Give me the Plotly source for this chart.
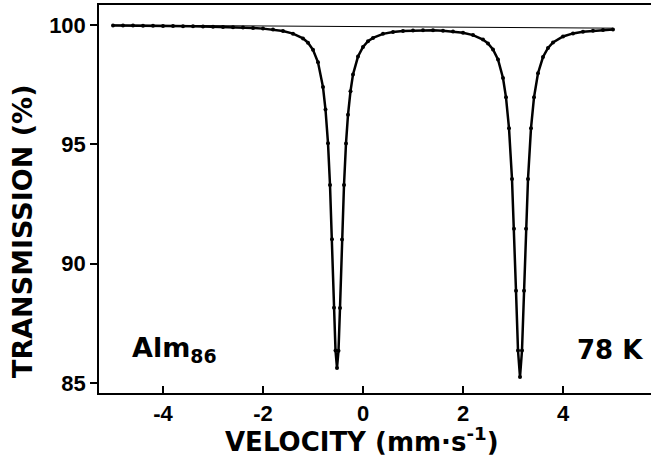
import plotly.graph_objects as go

# Velocity (mm/s) and transmission (%)
velocity = [-5.0, -4.8, -4.6, -4.4, -4.2, -4.0, -3.8, -3.6, -3.4, -3.2,
            -3.0, -2.8, -2.6, -2.4, -2.2, -2.0, -1.8, -1.6, -1.4, -1.2,
            -1.1, -1.0, -0.9, -0.8, -0.75, -0.7, -0.66, -0.62, -0.58, -0.55,
            -0.52, -0.49, -0.46, -0.42, -0.38, -0.34, -0.30, -0.25, -0.2, -0.1,
            0.0, 0.1, 0.2, 0.4, 0.6, 0.8, 1.0, 1.2, 1.4, 1.6,
            1.8, 2.0, 2.2, 2.4, 2.5, 2.6, 2.7, 2.8, 2.86, 2.92,
            2.98, 3.02, 3.06, 3.10, 3.14, 3.18, 3.22, 3.26, 3.30, 3.36,
            3.42, 3.5, 3.6, 3.7, 3.8, 4.0, 4.2, 4.4, 4.6, 4.8, 5.0]
transmission = [99.98, 99.98, 99.98, 99.97, 99.97, 99.96, 99.96, 99.95, 99.95, 99.94,
                99.93, 99.92, 99.91, 99.90, 99.88, 99.85, 99.81, 99.75, 99.64, 99.44,
                99.26, 98.96, 98.44, 97.40, 96.46, 95.05, 93.30, 91.02, 88.15, 86.36,
                85.63, 86.35, 88.14, 91.01, 93.30, 95.04, 96.24, 97.23, 97.93, 98.68,
                99.08, 99.32, 99.46, 99.63, 99.71, 99.75, 99.77, 99.78, 99.78, 99.76,
                99.73, 99.68, 99.58, 99.39, 99.23, 98.98, 98.56, 97.78, 96.97, 95.68,
                93.55, 91.46, 88.86, 86.36, 85.25, 86.36, 88.86, 91.46, 93.55, 95.68,
                96.97, 97.98, 98.66, 99.04, 99.27, 99.52, 99.65, 99.72, 99.76, 99.79, 99.81]

# Straight base line of the fit
base_v = [-5.0, 5.0]
base_t = [100.0, 99.87]

x_ticks = [-4, -2, 0, 2, 4]
y_ticks = [85, 90, 95, 100]

FONT = "DejaVu Sans"
TICKFONT = "Liberation Sans"

fig = go.Figure()
fig.add_trace(go.Scatter(x=base_v, y=base_t, mode="lines",
                         line=dict(color="black", width=1), showlegend=False))
fig.add_trace(go.Scatter(x=velocity, y=transmission, mode="lines+markers",
                         line=dict(color="black", width=2.5),
                         marker=dict(color="black", size=4),
                         showlegend=False))

fig.add_annotation(x=-4.66, y=86.4, xref="x", yref="y", xanchor="left", yanchor="middle",
                   text="<b>Alm<sub>86</sub></b>", showarrow=False,
                   font=dict(family=FONT, size=27, color="black"))
fig.add_annotation(x=4.23, y=86.4, xref="x", yref="y", xanchor="left", yanchor="middle",
                   text="<b>78 K</b>", showarrow=False,
                   font=dict(family=FONT, size=26, color="black"))

# Axis titles placed as annotations (centred as in the reference)
fig.add_annotation(x=22, y=232, xref="paper", yref="paper", text="<b>TRANSMISSION (%)</b>",
                   textangle=-90, showarrow=False, xanchor="center", yanchor="middle",
                   font=dict(family=FONT, size=27, color="black"))
fig.add_annotation(x=362, y=440, xref="paper", yref="paper", text="<b>VELOCITY (mm·s<sup>-1</sup>)</b>",
                   showarrow=False, xanchor="center", yanchor="middle",
                   font=dict(family=FONT, size=26, color="black"))

W, H = 651, 457
ML, MR, MT, MB = 99, 0, 5, 64
pw, ph = W - ML - MR, H - MT - MB
# convert pixel positions of the title annotations to paper coords
for ann in fig.layout.annotations[2:]:
    ann.x = (ann.x - ML) / pw
    ann.y = 1 - (ann.y - MT) / ph

fig.update_layout(
    width=W, height=H,
    margin=dict(l=ML, r=MR, t=MT, b=MB),
    plot_bgcolor="white", paper_bgcolor="white",
    font=dict(family=FONT, color="black"),
    xaxis=dict(range=[-5.28, 5.76], tickvals=x_ticks,
               ticktext=["<b>-4</b>", "<b>-2</b>", "<b>0</b>", "<b>2</b>", "<b>4</b>"],
               ticks="inside", ticklen=7, tickwidth=1.5, tickcolor="black",
               showline=True, linecolor="black", linewidth=1.5, mirror=True,
               showgrid=False, zeroline=False,
               tickfont=dict(family=TICKFONT, size=22, color="black")),
    yaxis=dict(range=[84.58, 100.84], tickvals=y_ticks,
               ticktext=["<b>85</b>", "<b>90</b>", "<b>95</b>", "<b>100</b>"],
               ticks="outside", ticklen=7, tickwidth=1.5, tickcolor="black",
               showline=True, linecolor="black", linewidth=1.5,
               showgrid=False, zeroline=False,
               tickfont=dict(family=TICKFONT, size=22, color="black")),
)

fig.write_html("out.html")
